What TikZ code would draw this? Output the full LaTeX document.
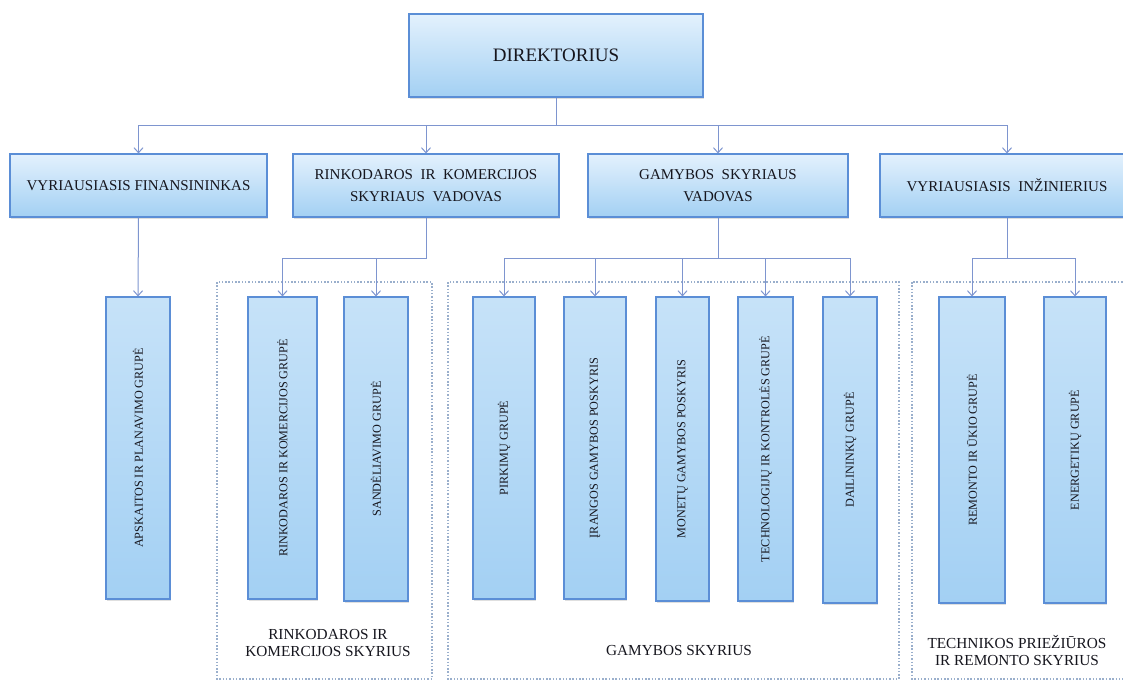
\documentclass[tikz,border=0pt]{standalone}
\usepackage{fontspec}
\setmainfont{Liberation Serif}
\usetikzlibrary{arrows.meta,shadows}
\definecolor{boxborder}{HTML}{5B8ED6}
\definecolor{boxtop}{HTML}{E3F1FD}
\definecolor{boxbot}{HTML}{A3D0F3}
\definecolor{conncol}{HTML}{7E95CF}
\definecolor{dashcol}{HTML}{9AAFCC}
\definecolor{txt}{HTML}{16161E}
\tikzset{
  bx/.style={draw=boxborder, line width=1.1pt, top color=boxtop, bottom color=boxbot,
    inner sep=0pt, align=center, text=txt,
    drop shadow={opacity=0.25, shadow xshift=1.2pt, shadow yshift=-1.6pt}},
  vbx/.style={bx, top color=boxtop!55!boxbot, bottom color=boxbot},
  lvone/.style={bx, font=\fontsize{19}{22}\selectfont},
  lvtwo/.style={bx, font=\fontsize{15}{21.5}\selectfont},
  vtext/.style={rotate=90, font=\fontsize{12.2}{14}\selectfont, text=txt, inner sep=0pt},
  conn/.style={draw=conncol, line width=1pt},
  arr/.style={conn, -{Straight Barb[length=5pt,width=9pt,line width=1pt]}},
  dbox/.style={draw=dashcol, line width=1.1pt, dash pattern=on 1.5pt off 1.8pt},
  lbl/.style={align=center, text=txt, font=\fontsize{15.3}{17}\selectfont, inner sep=0pt}
}
\begin{document}
\begin{tikzpicture}[x=1pt,y=-1pt]
\useasboundingbox (0,0) rectangle (1123,683);
\clip (0,0) rectangle (1123,683);
% dashed department frames
\draw[dbox] (217,282) rectangle (432,679);
\draw[dbox] (448,282) rectangle (899,679);
\draw[dbox] (912,282) rectangle (1140,679);
% level 1
\node[lvone, minimum width=294pt, minimum height=83pt] (dir) at (556,55.5) {DIREKTORIUS};
% level 2
\node[lvtwo, minimum width=257pt, minimum height=63pt] (fin) at (138.5,185.5) {VYRIAUSIASIS FINANSININKAS};
\node[lvtwo, minimum width=266pt, minimum height=63pt] (rink) at (426,185.5) {RINKODAROS \ IR \ KOMERCIJOS\\SKYRIAUS \ VADOVAS};
\node[lvtwo, minimum width=260pt, minimum height=63pt] (gam) at (718,185.5) {GAMYBOS \ SKYRIAUS\\VADOVAS};
\node[lvtwo, minimum width=254pt, minimum height=63pt] (inz) at (1007,185.5) {VYRIAUSIASIS \ INŽINIERIUS};
% level 3
\node[vbx, minimum width=64pt, minimum height=302pt] (aps) at (138,448) {};
\node[vtext] at (aps.center) {APSKAITOS IR PLANAVIMO GRUPĖ};
\node[vbx, minimum width=69pt, minimum height=302pt] (rkg) at (282.5,448) {};
\node[vtext] at (rkg.center) {RINKODAROS IR KOMERCIJOS GRUPĖ};
\node[vbx, minimum width=64pt, minimum height=304pt] (sand) at (376,449) {};
\node[vtext] at (sand.center) {SANDĖLIAVIMO GRUPĖ};
\node[vbx, minimum width=62pt, minimum height=302pt] (pirk) at (504,448) {};
\node[vtext] at (pirk.center) {PIRKIMŲ GRUPĖ};
\node[vbx, minimum width=62pt, minimum height=302pt] (iran) at (595,448) {};
\node[vtext] at (iran.center) {ĮRANGOS GAMYBOS POSKYRIS};
\node[vbx, minimum width=53pt, minimum height=304pt] (mon) at (682.5,449) {};
\node[vtext] at (mon.center) {MONETŲ GAMYBOS POSKYRIS};
\node[vbx, minimum width=55pt, minimum height=304pt] (tech) at (765.5,449) {};
\node[vtext] at (tech.center) {TECHNOLOGIJŲ IR KONTROLĖS GRUPĖ};
\node[vbx, minimum width=54pt, minimum height=306pt] (dail) at (850,450) {};
\node[vtext] at (dail.center) {DAILININKŲ GRUPĖ};
\node[vbx, minimum width=66pt, minimum height=306pt] (rem) at (972,450) {};
\node[vtext] at (rem.center) {REMONTO IR ŪKIO GRUPĖ};
\node[vbx, minimum width=62pt, minimum height=306pt] (ener) at (1075,450) {};
\node[vtext] at (ener.center) {ENERGETIKŲ GRUPĖ};
% department labels
\node[lbl] (lrink) at (328,643) {RINKODAROS IR\\KOMERCIJOS SKYRIUS};
\node[lbl] (lgam) at (679,650) {GAMYBOS SKYRIUS};
\node[lbl] (ltech) at (1017,650) {TECHNIKOS PRIEŽIŪROS\\IR REMONTO SKYRIUS};
% connectors level 1 -> 2
\coordinate (j0) at (556,125);
\draw[conn] (dir.south) -- (j0);
\draw[conn] (fin.north |- j0) -- (inz.north |- j0);
\foreach \n in {fin,rink,gam,inz} \draw[arr] (\n.north |- j0) -- (\n.north);
% level 2 -> 3
\draw[arr] (fin.south) -- (aps.north);
\coordinate (j1) at (426,258);
\draw[conn] (rink.south) -- (j1) -- (rkg.north |- j1);
\foreach \n in {rkg,sand} \draw[arr] (\n.north |- j1) -- (\n.north);
\coordinate (j2) at (718,258);
\draw[conn] (gam.south) -- (j2);
\draw[conn] (pirk.north |- j2) -- (dail.north |- j2);
\foreach \n in {pirk,iran,mon,tech,dail} \draw[arr] (\n.north |- j2) -- (\n.north);
\coordinate (j3) at (1007,258);
\draw[conn] (inz.south) -- (j3);
\draw[conn] (rem.north |- j3) -- (ener.north |- j3);
\foreach \n in {rem,ener} \draw[arr] (\n.north |- j3) -- (\n.north);
\end{tikzpicture}
\end{document}
